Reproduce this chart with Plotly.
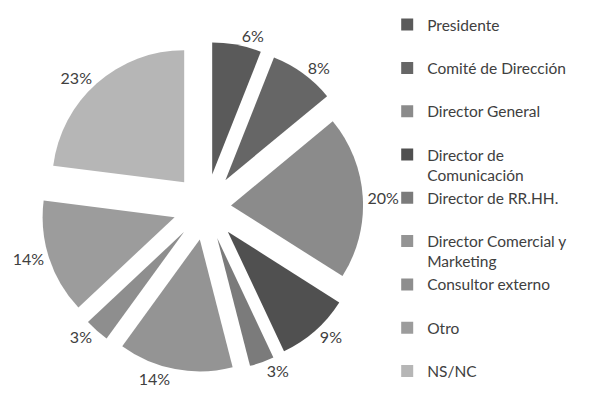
import plotly.graph_objects as go

labels = ["Presidente", "Comité de Dirección", "Director General",
          "Director de<br>Comunicación", "Director de RR.HH.",
          "Director Comercial y<br>Marketing", "Consultor externo", "Otro", "NS/NC"]
values = [6, 8, 20, 9, 3, 14, 3, 14, 23]
colors = ["#5a5a5a", "#666666", "#8b8b8b", "#505050", "#7b7b7b",
          "#949494", "#8e8e8e", "#9c9c9c", "#b6b6b6"]

# single-line entries get an empty second line so every legend block has the same height
legend_names = [l if "<br>" in l else l + "<br>&nbsp;" for l in labels]

# the big slice is pulled a bit less so its label stays clear of the legend
pulls = [0.25, 0.25, 0.19, 0.25, 0.25, 0.25, 0.25, 0.25, 0.25]

fig = go.Figure(go.Pie(
    labels=legend_names,
    values=values,
    sort=False,
    direction="clockwise",
    rotation=0,
    pull=pulls,
    marker=dict(colors=colors, line=dict(width=0)),
    texttemplate="%{value}%",
    textposition="outside",
    textfont=dict(family="Lato", size=16, color="#404040"),
    domain=dict(x=[0.055, 0.605], y=[0.099, 0.916]),
))

fig.update_layout(
    width=600, height=404,
    margin=dict(l=0, r=0, t=0, b=0, autoexpand=False),
    paper_bgcolor="white",
    font=dict(family="Lato", color="#404040"),
    legend=dict(
        x=0.632, y=1.0, xanchor="left", yanchor="top",
        valign="top",
        bgcolor="rgba(0,0,0,0)",
        font=dict(family="Lato", size=15.5, color="#404040"),
        itemwidth=30,
    ),
)

fig.write_html("out.html")
